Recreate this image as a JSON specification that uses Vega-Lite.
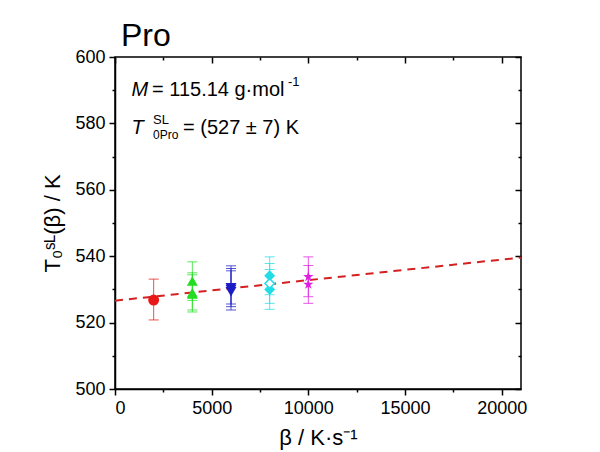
{
  "$schema": "https://vega.github.io/schema/vega-lite/v6.json",
  "width": 406,
  "height": 332,
  "autosize": "none",
  "padding": {"left": 115, "top": 57, "right": 79, "bottom": 63},
  "background": "white",
  "title": {"text": "Pro", "anchor": "start", "frame": "group", "fontSize": 32, "font": "Liberation Sans", "fontWeight": "normal", "color": "black", "offset": -5, "dx": 6},
  "config": {
    "view": {"stroke": "black", "strokeWidth": 1.5},
    "axis": {"labelFont": "Liberation Sans", "labelFontSize": 18, "labelColor": "black", "titleFont": "Liberation Sans", "titleFontSize": 22, "titleFontWeight": "normal", "titleColor": "black", "domainColor": "black", "domainWidth": 1.5, "tickColor": "black", "tickWidth": 1.5, "grid": false}
  },
  "datasets": {
    "pts": [
      {"beta": 2000, "T": 526.8, "lo": 520.8, "hi": 533.1, "series": "red", "open": false},
      {"beta": 4000, "T": 532.5, "lo": 526.7, "hi": 538.3, "series": "green", "open": false},
      {"beta": 4000, "T": 529.0, "lo": 523.2, "hi": 534.4, "series": "green", "open": false},
      {"beta": 4000, "T": 528.6, "lo": 523.8, "hi": 535.0, "series": "green", "open": false},
      {"beta": 6000, "T": 530.5, "lo": 523.8, "hi": 537.1, "series": "blue", "open": false},
      {"beta": 6000, "T": 530.0, "lo": 524.8, "hi": 536.3, "series": "blue", "open": false},
      {"beta": 6000, "T": 529.3, "lo": 525.6, "hi": 535.6, "series": "blue", "open": false},
      {"beta": 8000, "T": 534.1, "lo": 528.4, "hi": 539.8, "series": "cyan", "open": false},
      {"beta": 8000, "T": 531.8, "lo": 525.8, "hi": 537.8, "series": "cyan", "open": true},
      {"beta": 8000, "T": 530.0, "lo": 524.0, "hi": 536.0, "series": "cyan", "open": false},
      {"beta": 10000, "T": 533.8, "lo": 527.8, "hi": 539.8, "series": "magenta", "open": false},
      {"beta": 10000, "T": 531.5, "lo": 525.8, "hi": 537.2, "series": "magenta", "open": false}
    ],
    "fit": [
      {"beta": 0, "T": 526.6},
      {"beta": 21000, "T": 539.6}
    ]
  },
  "resolve": {"axis": {"x": "independent", "y": "independent"}},
  "layer": [
    {
      "data": {"name": "fit"},
      "mark": {"type": "line", "color": "#d42020", "strokeWidth": 2, "strokeDash": [8, 6]},
      "encoding": {
        "x": {"field": "beta", "type": "quantitative", "scale": {"domain": [0, 21000], "nice": false, "zero": false},
          "axis": {"orient": "bottom", "title": "β / K·s⁻¹", "values": [0, 2500, 5000, 7500, 10000, 12500, 15000, 17500, 20000],
            "labelExpr": "datum.value % 5000 === 0 ? datum.label : ''", "format": "d",
            "tickSize": {"condition": {"test": "datum.value % 5000 === 0", "value": 6}, "value": 3},
            "labelPadding": 4, "titlePadding": 10}},
        "y": {"field": "T", "type": "quantitative", "scale": {"domain": [500, 600], "nice": false, "zero": false},
          "axis": {"orient": "left", "title": "T₀ˢᴸ(β) / K", "values": [500, 510, 520, 530, 540, 550, 560, 570, 580, 590, 600],
            "labelExpr": "datum.value % 20 === 0 ? datum.label : ''",
            "tickSize": {"condition": {"test": "datum.value % 20 === 0", "value": 6}, "value": 3},
            "labelPadding": 4, "titlePadding": 10}}
      }
    },
    {
      "data": {"name": "pts"},
      "mark": {"type": "rule", "strokeWidth": 1, "opacity": 0.75},
      "encoding": {
        "x": {"field": "beta", "type": "quantitative",
          "axis": {"orient": "top", "title": null, "labels": false, "domain": false, "values": [0, 2500, 5000, 7500, 10000, 12500, 15000, 17500, 20000],
            "tickSize": {"condition": {"test": "datum.value % 5000 === 0", "value": -6}, "value": -3}}},
        "y": {"field": "lo", "type": "quantitative",
          "axis": {"orient": "right", "title": null, "labels": false, "domain": false, "values": [500, 510, 520, 530, 540, 550, 560, 570, 580, 590, 600],
            "tickSize": {"condition": {"test": "datum.value % 20 === 0", "value": -6}, "value": -3}}},
        "y2": {"field": "hi"},
        "color": {"field": "series", "type": "nominal", "legend": null,
          "scale": {"domain": ["red", "green", "blue", "cyan", "magenta"], "range": ["#e81818", "#22dd22", "#1c1cc4", "#22dde6", "#dd22dd"]}}
      }
    },
    {
      "data": {"name": "pts"},
      "mark": {"type": "tick", "orient": "horizontal", "thickness": 1, "size": 10, "opacity": 0.75},
      "encoding": {
        "x": {"field": "beta", "type": "quantitative", "axis": null},
        "y": {"field": "lo", "type": "quantitative", "axis": null},
        "color": {"field": "series", "type": "nominal", "legend": null}
      }
    },
    {
      "data": {"name": "pts"},
      "mark": {"type": "tick", "orient": "horizontal", "thickness": 1, "size": 10, "opacity": 0.75},
      "encoding": {
        "x": {"field": "beta", "type": "quantitative", "axis": null},
        "y": {"field": "hi", "type": "quantitative", "axis": null},
        "color": {"field": "series", "type": "nominal", "legend": null}
      }
    },
    {
      "data": {"name": "pts"},
      "transform": [{"filter": "!datum.open"}],
      "mark": {"type": "point", "filled": true, "opacity": 1, "size": 120},
      "encoding": {
        "x": {"field": "beta", "type": "quantitative", "axis": null},
        "y": {"field": "T", "type": "quantitative", "axis": null},
        "color": {"field": "series", "type": "nominal", "legend": null},
        "shape": {"field": "series", "type": "nominal", "legend": null,
          "scale": {"domain": ["red", "green", "blue", "cyan", "magenta"],
            "range": ["circle", "triangle-up", "triangle-down", "diamond", "M0,-1L0.2245,-0.309L0.951,-0.309L0.363,0.118L0.588,0.809L0,0.382L-0.588,0.809L-0.363,0.118L-0.951,-0.309L-0.2245,-0.309Z"]}}
      }
    },
    {
      "data": {"name": "pts"},
      "transform": [{"filter": "datum.open"}],
      "mark": {"type": "point", "shape": "diamond", "filled": true, "fill": "white", "stroke": "#22dde6", "strokeWidth": 1.5, "opacity": 1, "size": 90},
      "encoding": {
        "x": {"field": "beta", "type": "quantitative", "axis": null},
        "y": {"field": "T", "type": "quantitative", "axis": null}
      }
    },
    {
      "data": {"values": [{"x": 850, "y": 590, "t": "M"}, {"x": 850, "y": 578.5, "t": "T"}]},
      "mark": {"type": "text", "font": "Liberation Sans", "fontSize": 20, "fontStyle": "italic", "align": "left", "baseline": "middle", "color": "black"},
      "encoding": {
        "x": {"field": "x", "type": "quantitative", "axis": null},
        "y": {"field": "y", "type": "quantitative", "axis": null},
        "text": {"field": "t"}
      }
    },
    {
      "data": {"values": [{"x": 1914, "y": 590, "t": "= 115.14 g·mol"}, {"x": 3517, "y": 578.5, "t": "= (527 ± 7) K"}]},
      "mark": {"type": "text", "font": "Liberation Sans", "fontSize": 20, "align": "left", "baseline": "middle", "color": "black"},
      "encoding": {
        "x": {"field": "x", "type": "quantitative", "axis": null},
        "y": {"field": "y", "type": "quantitative", "axis": null},
        "text": {"field": "t"}
      }
    },
    {
      "data": {"values": [{"x": 8948, "y": 590, "t": "-1"}, {"x": 1966, "y": 578.5, "t": "SL"}]},
      "mark": {"type": "text", "font": "Liberation Sans", "fontSize": 13, "align": "left", "baseline": "middle", "color": "black", "dy": -8},
      "encoding": {
        "x": {"field": "x", "type": "quantitative", "axis": null},
        "y": {"field": "y", "type": "quantitative", "axis": null},
        "text": {"field": "t"}
      }
    },
    {
      "data": {"values": [{"x": 1966, "y": 578.5, "t": "0Pro"}]},
      "mark": {"type": "text", "font": "Liberation Sans", "fontSize": 12, "align": "left", "baseline": "middle", "color": "black", "dy": 7},
      "encoding": {
        "x": {"field": "x", "type": "quantitative", "axis": null},
        "y": {"field": "y", "type": "quantitative", "axis": null},
        "text": {"field": "t"}
      }
    }
  ]
}
